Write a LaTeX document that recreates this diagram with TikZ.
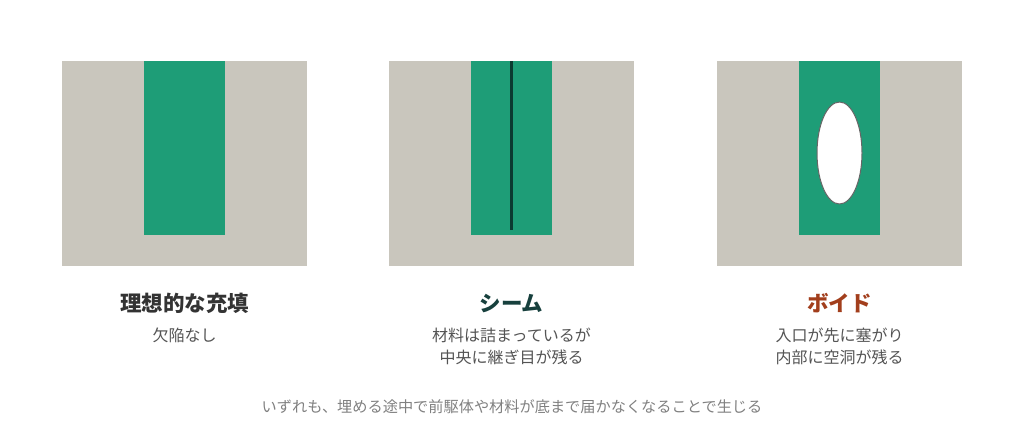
\documentclass[tikz,border=0pt]{standalone}
\usepackage{fontspec}
\setmainfont{Noto Sans CJK JP}
\usetikzlibrary{shapes.geometric}
\definecolor{subgray}{HTML}{C9C6BD}
\definecolor{fillgreen}{HTML}{1E9D77}
\definecolor{seamdark}{HTML}{0B3B31}
\definecolor{titleteal}{HTML}{17403D}
\definecolor{titlerust}{HTML}{A23E1C}
\begin{document}
\begin{tikzpicture}[x=1pt,y=-1pt]
        \tikzstyle{substrate}=[fill=subgray,inner sep=0pt,minimum width=245pt,minimum height=205pt,anchor=north west]
        \tikzstyle{trench}=[fill=fillgreen,inner sep=0pt,minimum width=81pt,minimum height=174pt,anchor=north west]
        \tikzstyle{void}=[ellipse,draw=black!60,line width=1pt,fill=white,inner sep=0pt,minimum width=45pt,minimum height=102pt]
        \tikzstyle{title}=[anchor=base,font=\fontsize{21.5}{24}\selectfont\bfseries]
        \tikzstyle{note}=[anchor=base,align=center,text=black!67,font=\fontsize{16}{22}\selectfont]
        \useasboundingbox (0,0) rectangle (1024,440);
       % ideal fill
       \begin{scope}
         \node [substrate] (sub1) at (62,61) {};
         \node [trench] (tr1) at (144,61) {};
         \node [title,text=black!80] (t1) at (184.5,311) {理想的な充填};
         \node [note] (n1) at (184.5,341) {欠陥なし};
        \end{scope}
       % seam
       \begin{scope}
         \node [substrate] (sub2) at (389,61) {};
         \node [trench] (tr2) at (471,61) {};
         \coordinate (seamtop) at (511.5,61);
         \coordinate (seambot) at (511.5,230);
         \draw [seamdark,line width=3.5pt] (seamtop) -- (seambot);
         \node [title,text=titleteal] (t2) at (511.5,311) {シーム};
         \node [note] (n2) at (511.5,363) {材料は詰まっているが\\中央に継ぎ目が残る};
        \end{scope}
       % void
       \begin{scope}
         \node [substrate] (sub3) at (717,61) {};
         \node [trench] (tr3) at (799,61) {};
         \node [void] (v3) at (839.5,153) {};
         \node [title,text=titlerust] (t3) at (839.5,311) {ボイド};
         \node [note] (n3) at (839.5,363) {入口が先に塞がり\\内部に空洞が残る};
        \end{scope}
        \node [anchor=base,text=black!50,font=\fontsize{15.2}{18}\selectfont] (foot) at (512,412) {いずれも、埋める途中で前駆体や材料が底まで届かなくなることで生じる};
      \end{tikzpicture}
\end{document}
